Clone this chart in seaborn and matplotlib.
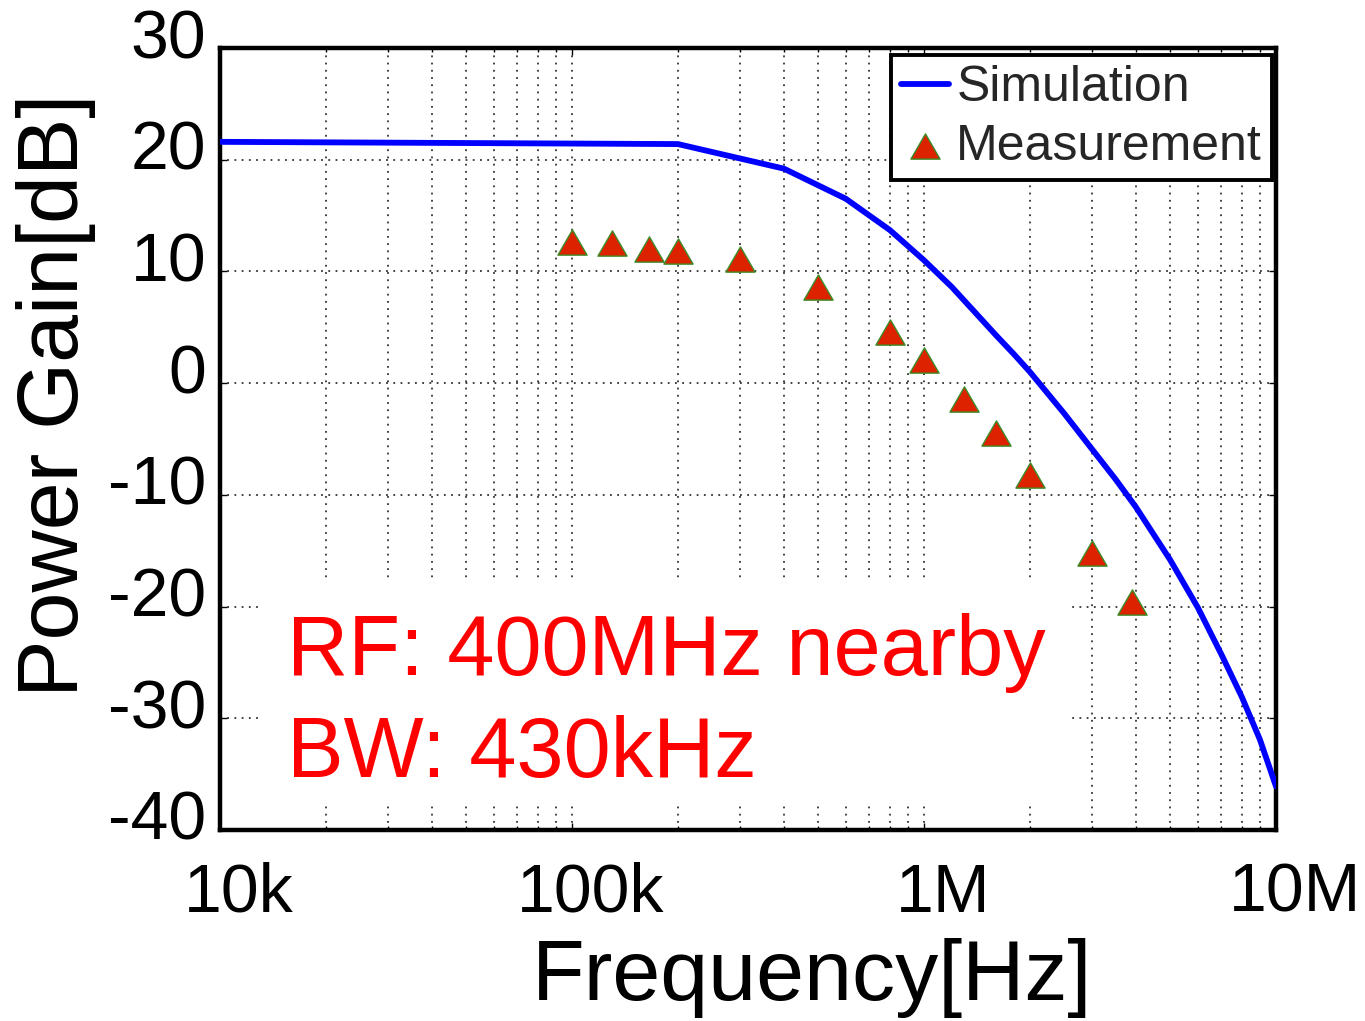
import matplotlib
matplotlib.use("Agg")
import numpy as np
import matplotlib.pyplot as plt
import matplotlib.transforms as mtransforms
from matplotlib.patches import Rectangle
from matplotlib.path import Path
from matplotlib.ticker import LogLocator, NullFormatter
import seaborn as sns

# ---- data ----
sim_freq = [1e4, 2e5, 4e5, 6e5, 8e5, 1e6, 1.2e6, 1.4e6, 1.6e6, 1.8e6, 2e6,
            2.5e6, 3e6, 3.5e6, 4e6, 5e6, 6e6, 7e6, 8e6, 9e6, 1e7]
sim_gain = [21.6, 21.4, 19.2, 16.5, 13.7, 11.0, 8.6, 6.3, 4.3, 2.6, 1.0,
            -2.7, -5.9, -8.6, -11.1, -15.8, -20.1, -24.3, -28.1, -31.9, -36.1]

meas_freq = [1e5, 1.3e5, 1.65e5, 2e5, 3e5, 5e5, 8e5, 1e6, 1.3e6, 1.6e6,
             2e6, 3e6, 3.9e6]
meas_gain = [12.6, 12.5, 12.0, 11.8, 11.1, 8.6, 4.6, 2.1, -1.4, -4.5,
             -8.2, -15.2, -19.6]

x_ticks = [1e4, 1e5, 1e6, 1e7]
x_tick_labels = ["10k", "100k", "1M", "10M"]
y_ticks = [-40, -30, -20, -10, 0, 10, 20, 30]
y_tick_labels = ["-40", "-30", "-20", "-10", "0", "10", "20", "30"]

series_names = ["Simulation", "Measurement"]
x_label = "Frequency[Hz]"
y_label = "Power Gain[dB]"
note_lines = ["RF: 400MHz nearby", "BW: 430kHz"]

# ---- style ----
sns.set_style("white")
plt.rcParams["font.family"] = ["Liberation Sans", "DejaVu Sans"]

W, H, DPI = 1365, 1021, 100
fig = plt.figure(figsize=(W / DPI, H / DPI), dpi=DPI)
ax_l, ax_r, ax_t, ax_b = 220, 1276, 48, 830
ax = fig.add_axes([ax_l / W, 1 - ax_b / H, (ax_r - ax_l) / W, (ax_b - ax_t) / H])

ax.set_xscale("log")
ax.set_xlim(1e4, 1e7)
ax.set_ylim(-40, 30)

# equilateral triangle marker
tri = Path(np.array([[-1.0, -0.866], [1.0, -0.866], [0.0, 0.866], [-1.0, -0.866]]),
           [Path.MOVETO, Path.LINETO, Path.LINETO, Path.CLOSEPOLY])

sns.lineplot(x=sim_freq, y=sim_gain, ax=ax, color="#0000FF", linewidth=4.2,
             label=series_names[0], zorder=3, sort=False)
sns.scatterplot(x=meas_freq, y=meas_gain, ax=ax, marker=tri, s=21 ** 2,
                color="#DD2200", edgecolor="#3C8C28", linewidth=1.0,
                label=series_names[1], zorder=4)

# ticks & grid
ax.set_xticks(x_ticks)
ax.xaxis.set_minor_locator(LogLocator(base=10, subs=range(2, 10)))
ax.xaxis.set_minor_formatter(NullFormatter())
ax.set_yticks(y_ticks)
ax.set_xticklabels([])
ax.set_yticklabels([])
ax.tick_params(which="both", direction="in", top=True, right=True,
               bottom=True, left=True, width=1.0, color="black")
ax.tick_params(which="major", length=5)
ax.tick_params(which="minor", length=3)
ax.set_axisbelow(True)
ax.grid(True, which="both", axis="x", linestyle=(0, (1, 3)), linewidth=1.3,
        color="#333333")
ax.grid(True, which="major", axis="y", linestyle=(0, (1, 3)), linewidth=1.3,
        color="#333333")
for sp in ax.spines.values():
    sp.set_linewidth(3.2)
    sp.set_color("black")
ax.set_xlabel("")
ax.set_ylabel("")

px = lambda dx, dy: mtransforms.ScaledTranslation(dx / DPI, dy / DPI, fig.dpi_scale_trans)

# tick labels drawn at the axis scale positions
xt = mtransforms.blended_transform_factory(ax.transData, ax.transAxes)
for v, lab in zip(x_ticks, x_tick_labels):
    ax.text(v, 0, lab, transform=xt + px(19, -82), ha="center", va="baseline",
            fontsize=49, color="black", clip_on=False)
yt = mtransforms.blended_transform_factory(ax.transAxes, ax.transData)
for v, lab in zip(y_ticks, y_tick_labels):
    ax.text(0, v, lab, transform=yt + px(-14, -10), ha="right", va="baseline",
            fontsize=49, color="black", clip_on=False)

# axis labels
fig.text(812 / W, 1 - 1000 / H, x_label, ha="center", va="baseline",
         fontsize=62, color="black")
fig.text(56 / W, 1 - 395 / H, y_label, ha="center", va="center",
         rotation=90, fontsize=62, color="black")

# white box behind note text
bx0, bx1, by0, by1 = 263, 1067, 580, 805
ax.add_patch(Rectangle(((bx0 - ax_l) / (ax_r - ax_l), (ax_b - by1) / (ax_b - ax_t)),
                       (bx1 - bx0) / (ax_r - ax_l), (by1 - by0) / (ax_b - ax_t),
                       transform=ax.transAxes, facecolor="white",
                       edgecolor="none", zorder=1))
fig.text(287 / W, 1 - 675 / H, note_lines[0], ha="left", va="baseline",
         fontsize=61, color="#FF0000")
fig.text(287 / W, 1 - 777 / H, note_lines[1], ha="left", va="baseline",
         fontsize=61, color="#FF0000")

# legend
leg = ax.legend(loc="upper right",
                bbox_to_anchor=((1272 - ax_l) / (ax_r - ax_l), (ax_b - 55) / (ax_b - ax_t)),
                borderaxespad=0, fontsize=36, frameon=True, fancybox=False,
                framealpha=1, edgecolor="black", borderpad=0.2,
                handlelength=0.95, handletextpad=0.15, labelspacing=0.25,
                scatterpoints=1)
leg.get_frame().set_linewidth(2.8)

fig.savefig("out.png", dpi=DPI)
